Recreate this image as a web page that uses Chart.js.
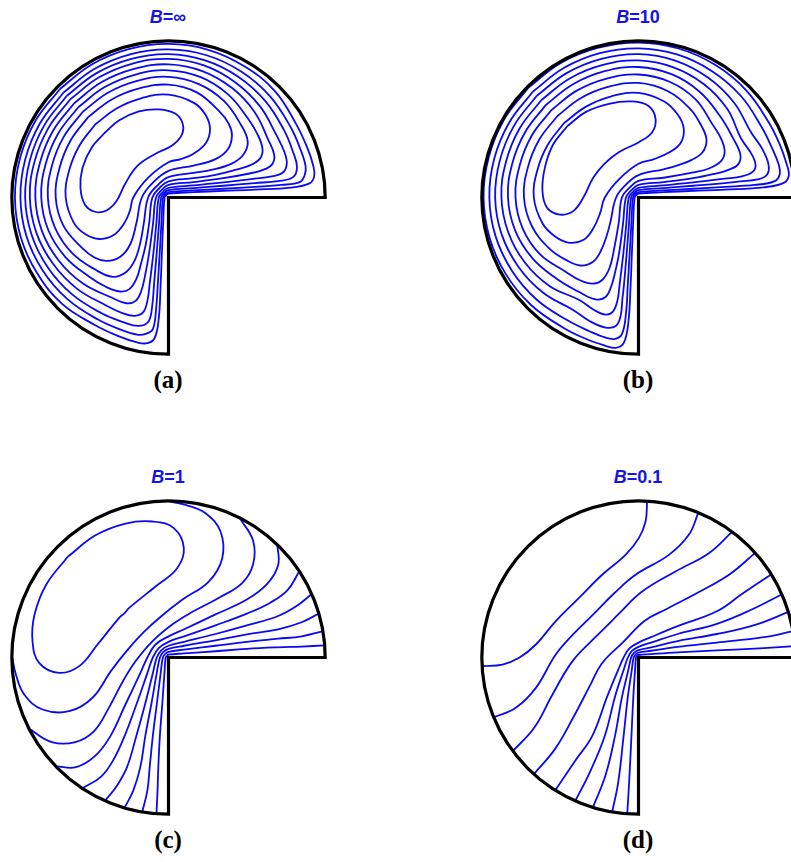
<!DOCTYPE html>
<html>
<head>
<meta charset="utf-8">
<script src="https://cdn.jsdelivr.net/npm/chart.js@4.4.1/dist/chart.umd.min.js"></script>
<style>
  html, body { margin: 0; padding: 0; background: #fff; }
  body { width: 791px; height: 862px; overflow: hidden; position: relative; }
  .panel { position: absolute; width: 329px; height: 329px; }
  .title { position: absolute; font: bold 18px "Liberation Sans", Arial, sans-serif; line-height: 18px;
           color: #1414e6; white-space: nowrap; transform: translateX(-50%); }
  .title i { font-style: italic; }
  .tag { position: absolute; font: bold 25px "Liberation Serif", "Times New Roman", serif; line-height: 25px;
         color: #000; white-space: nowrap; transform: translateX(-50%); }
</style>
</head>
<body>
<script>
// Isotherms of the three-quarter circular duct, radius = 100, re-entrant corner at (0,0).
// Biot numbers of the four cases
const biot = ['\u221E', '10', '1', '0.1'];
const tags = ['(a)', '(b)', '(c)', '(d)'];

// B = infinity : closed isotherms
const isoA = [
  [[-69.3,69.3],[-49,84.9],[-25.4,94.7],[0,98],[25.3,94.3],[48.4,83.8],[67.9,67.9],[81.4,47],[88.5,32],[92.5,20],[93,13.5],[90,9],[78,6.3],[55,5],[35,4.2],[16,3.4],[0,2.5],[-1.4,1.4],[-2.5,0],[-3.4,-16],[-4.2,-35],[-5,-55],[-6.3,-78],[-9,-90],[-13.5,-93],[-20,-92.5],[-32,-88.5],[-47,-81.4],[-67.9,-67.9],[-83.8,-48.4],[-94.3,-25.3],[-98,0],[-94.7,25.4],[-84.9,49],[-69.3,69.3]],
  [[-67,67],[-47.4,82],[-24.5,91.4],[0,94.5],[24.3,90.8],[46.4,80.4],[64.7,64.7],[77.9,45],[84.5,30],[87.5,20],[87,14.5],[84,10],[72,8],[55,6.8],[35,5.6],[16,4.5],[0,3.5],[-2,2],[-3.5,0],[-4.5,-16],[-5.6,-35],[-6.8,-55],[-8,-72],[-10,-84],[-14.5,-87],[-20,-87.5],[-30,-84.5],[-45,-77.9],[-64.7,-64.7],[-80.4,-46.4],[-90.8,-24.3],[-94.5,0],[-91.4,24.5],[-82,47.4],[-67,67]],
  [[-64.9,64.9],[-45.9,79.4],[-23.7,88.5],[0,91.5],[23.4,87.5],[44.5,77.1],[61.7,61.7],[73.9,42.7],[79.5,29],[82,19.5],[79.5,13],[70,10.5],[55,9.2],[35,7.5],[16,6],[0,4.7],[-2.7,2.7],[-4.7,0],[-6,-16],[-7.5,-35],[-9.2,-55],[-10.5,-70],[-13,-79.5],[-19.5,-82],[-29,-79.5],[-42.7,-73.9],[-61.7,-61.7],[-77.1,-44.5],[-87.5,-23.4],[-91.5,0],[-88.5,23.7],[-79.4,45.9],[-64.9,64.9]],
  [[-62.7,62.7],[-44.3,76.7],[-22.9,85.5],[0,88.5],[22.6,84.3],[42.5,73.6],[58.3,58.3],[68.9,39.8],[74,29],[75.5,21.5],[73,16],[65,13.3],[55,12],[35,9.6],[16,7.7],[0,6.2],[-3.5,3.5],[-6.2,0],[-7.7,-16],[-9.6,-35],[-12,-55],[-13.3,-65],[-16,-73],[-21.5,-75.5],[-29,-74],[-39.8,-68.9],[-58.3,-58.3],[-73.6,-42.5],[-84.3,-22.6],[-88.5,0],[-85.5,22.9],[-76.7,44.3],[-62.7,62.7]],
  [[-60.2,60.2],[-42.6,73.7],[-22,82.1],[0,85],[21.6,80.7],[40.4,70],[54.8,54.8],[63.7,36.8],[67.5,27],[66,21],[60,17.5],[50,15],[35,12.3],[16,9.8],[0,8],[-4.6,4.6],[-8,0],[-9.8,-16],[-12.3,-35],[-15,-50],[-17.5,-60],[-21,-66],[-27,-67.5],[-36.8,-63.7],[-54.8,-54.8],[-70,-40.4],[-80.7,-21.6],[-85,0],[-82.1,22],[-73.7,42.6],[-60.2,60.2]],
  [[-57.6,57.6],[-40.7,70.5],[-21,78.5],[0,81.2],[20.6,76.8],[38,65.8],[50.6,50.6],[57,40],[60,31],[58.5,25],[52,20.5],[42,17.5],[30,14.5],[16,12.3],[0,10.3],[-5.9,5.9],[-10.3,0],[-12.3,-16],[-14.5,-30],[-17.5,-42],[-20.5,-52],[-25,-58.5],[-31,-60],[-40,-57],[-50.6,-50.6],[-65.8,-38],[-76.8,-20.6],[-81.2,0],[-78.5,21],[-70.5,40.7],[-57.6,57.6]],
  [[-54.7,54.7],[-38.7,66.9],[-20,74.5],[0,77],[19.4,72.4],[35.5,61.5],[46.3,46.3],[50.6,35.5],[47.5,27],[40,21.5],[28,17.8],[16,15.7],[0,13],[-7.4,7.4],[-13,0],[-15.7,-16],[-17.8,-28],[-21.5,-40],[-27,-47.5],[-35.5,-50.6],[-46.3,-46.3],[-61.5,-35.5],[-72.4,-19.4],[-77,0],[-74.5,20],[-66.9,38.7],[-54.7,54.7]],
  [[-51.3,51.3],[-36.2,62.6],[-18.7,69.6],[0,72],[18,67.1],[32,55.4],[38.5,47],[40.5,39.5],[38,31],[30,24.5],[16,20.4],[0,17],[-9.7,9.7],[-17,0],[-20.4,-16],[-24.5,-30],[-31,-38],[-39.5,-40.5],[-47,-38.5],[-55.4,-32],[-67.1,-18],[-72,0],[-69.6,18.7],[-62.6,36.2],[-51.3,51.3]],
  [[-46.7,46.7],[-32.9,57],[-17,63.5],[0,65.6],[16.2,60.4],[23.5,53],[26.5,44],[24,35],[16,28],[8,24.5],[0,22.5],[-12.8,12.8],[-22.5,0],[-24.5,-8],[-28,-16],[-35,-24],[-44,-26.5],[-53,-23.5],[-60.4,-16.2],[-65.6,0],[-63.5,17],[-57,32.9],[-46.7,46.7]],
  [[-41,41],[-31.7,49.1],[-18.9,54.9],[-6.2,56.2],[4.5,53.4],[9.1,47],[8.3,39.6],[2.3,33.2],[-8.3,27.9],[-20,20],[-27.9,8.3],[-33.2,-2.3],[-39.6,-8.3],[-47,-9.1],[-53.4,-4.5],[-56.2,6.2],[-54.9,18.9],[-49.1,31.7],[-41,41]]
];

// B = 10
const isoB = [
  [[-70.2,70.2],[-49.6,85.9],[-25.6,95.6],[0,98.9],[25.5,95.1],[48.9,84.7],[68.6,68.6],[83.1,48],[90.5,33],[94.5,21.5],[96,14.5],[93,9.5],[80,6.5],[55,5],[35,4.2],[16,3.4],[0,2.5],[-1.4,1.4],[-2.5,0],[-3.4,-16],[-4.2,-35],[-5,-55],[-6.5,-80],[-9.5,-93],[-14.5,-96],[-21.5,-94.5],[-33,-90.5],[-48,-83.1],[-68.6,-68.6],[-84.7,-48.9],[-95.1,-25.5],[-98.9,0],[-95.6,25.6],[-85.9,49.6],[-70.2,70.2]],
  [[-67.5,67.5],[-47.7,82.6],[-24.7,92.1],[0,95.2],[24.5,91.3],[46.7,80.8],[65.1,65.1],[78.4,45.3],[85.5,31],[89.5,21],[90.2,15],[87,10.5],[74,8],[55,6.8],[35,5.6],[16,4.5],[0,3.5],[-2,2],[-3.5,0],[-4.5,-16],[-5.6,-35],[-6.8,-55],[-8,-74],[-10.5,-87],[-15,-90.2],[-21,-89.5],[-31,-85.5],[-45.3,-78.4],[-65.1,-65.1],[-80.8,-46.7],[-91.3,-24.5],[-95.2,0],[-92.1,24.7],[-82.6,47.7],[-67.5,67.5]],
  [[-64.9,64.9],[-45.9,79.4],[-23.7,88.5],[0,91.5],[23.4,87.4],[44.3,76.6],[60.8,60.8],[71.9,41.5],[79,31],[83,21],[82,14.5],[76,11.5],[65,10.3],[55,9.2],[35,7.5],[16,6],[0,4.7],[-2.7,2.7],[-4.7,0],[-6,-16],[-7.5,-35],[-9.2,-55],[-10.3,-65],[-11.5,-76],[-14.5,-82],[-21,-83],[-31,-79],[-41.5,-71.9],[-60.8,-60.8],[-76.6,-44.3],[-87.4,-23.4],[-91.5,0],[-88.5,23.7],[-79.4,45.9],[-64.9,64.9]],
  [[-62.1,62.1],[-43.9,76],[-22.7,84.6],[0,87.5],[22.3,83.1],[41.8,72.3],[56.6,56.6],[65.4,37.8],[72,28],[74.7,21],[73,16.5],[66,13.5],[55,12],[35,9.6],[16,7.7],[0,6.2],[-3.5,3.5],[-6.2,0],[-7.7,-16],[-9.6,-35],[-12,-55],[-13.5,-66],[-16.5,-73],[-21,-74.7],[-28,-72],[-37.8,-65.4],[-56.6,-56.6],[-72.3,-41.8],[-83.1,-22.3],[-87.5,0],[-84.6,22.7],[-76,43.9],[-62.1,62.1]],
  [[-59.1,59.1],[-41.8,72.3],[-21.6,80.6],[0,83.3],[21.1,78.7],[39,67.5],[52,52],[60,38.5],[65,27.5],[63.5,21],[57,17.5],[48,15],[35,12.3],[16,9.8],[0,8],[-4.6,4.6],[-8,0],[-9.8,-16],[-12.3,-35],[-15,-48],[-17.5,-57],[-21,-63.5],[-27.5,-65],[-38.5,-60],[-52,-52],[-67.5,-39],[-78.7,-21.1],[-83.3,0],[-80.6,21.6],[-72.3,41.8],[-59.1,59.1]],
  [[-55.7,55.7],[-39.4,68.2],[-20.3,75.9],[0,78.5],[19.8,73.9],[36.3,62.8],[47,47],[53,37],[55,29],[52.5,23],[45,18.5],[35,16],[16,12.6],[0,10.6],[-6,6],[-10.6,0],[-12.6,-16],[-16,-35],[-18.5,-45],[-23,-52.5],[-29,-55],[-37,-53],[-47,-47],[-62.8,-36.3],[-73.9,-19.8],[-78.5,0],[-75.9,20.3],[-68.2,39.4],[-55.7,55.7]],
  [[-51.9,51.9],[-36.7,63.5],[-18.9,70.7],[0,73.1],[18.2,68.1],[32.8,56.7],[40,46],[43.4,37],[41,29],[34,24],[25,20.5],[16,18],[0,14.3],[-8.1,8.1],[-14.3,0],[-18,-16],[-20.5,-25],[-24,-34],[-29,-41],[-37,-43.4],[-46,-40],[-56.7,-32.8],[-68.1,-18.2],[-73.1,0],[-70.7,18.9],[-63.5,36.7],[-51.9,51.9]],
  [[-47.5,47.5],[-33.5,58],[-17.3,64.6],[0,66.8],[16.4,61.3],[25,53],[28.9,44],[27,35],[20,29],[10,24.5],[0,21.5],[-12,12],[-21.5,0],[-24.5,-10],[-29,-20],[-35,-27],[-44,-28.9],[-53,-25],[-61.3,-16.4],[-66.8,0],[-64.6,17.3],[-58,33.5],[-47.5,47.5]],
  [[-45.5,45.5],[-33.8,54.5],[-18.9,59.8],[-4,61.3],[6.6,58.3],[10.9,50.2],[8.7,41.7],[0.2,35.3],[-12.6,28.9],[-21.6,21.6],[-28.9,12.6],[-35.3,-0.2],[-41.7,-8.7],[-50.2,-10.9],[-58.3,-6.6],[-61.3,4],[-59.8,18.9],[-54.5,33.8],[-45.5,45.5]]
];

// B = 1 : one closed isotherm, the rest end on the wall
const isoC = [
  [[-64.3,64.3],[-46.6,78],[-27.4,85.5],[-10.4,86.8],[3.4,82.6],[9.8,69.8],[5.5,57],[-8.3,45.3],[-25.3,31.5],[-28.2,28.2],[-31.5,25.3],[-45.3,8.3],[-57,-5.5],[-69.8,-9.8],[-82.6,-3.4],[-86.8,10.4],[-85.5,27.4],[-78,46.6],[-64.3,64.3]],
  [[-1,99.9],[10.9,97.4],[23.6,92.1],[33.2,80.4],[34.3,63.4],[25.7,48.5],[8.7,36.8],[-5,26],[-16,16],[-26,5],[-36.8,-8.7],[-48.5,-25.7],[-63.4,-34.3],[-80.4,-33.2],[-92.1,-23.6],[-97.4,-10.9],[-99.9,1]],
  [[45.4,89.1],[54,74.5],[54,59.5],[47,47.5],[32,38],[15,29],[3,21.5],[-10.3,10.3],[-21.5,-3],[-29,-15],[-38,-32],[-47.5,-47],[-59.5,-54],[-74.5,-54],[-89.1,-45.4]],
  [[69.5,71.9],[70,59],[63,47],[50,37],[30,27.5],[10,18],[0,13.5],[-8.3,8.3],[-13.5,0],[-18,-10],[-27.5,-30],[-37,-50],[-47,-63],[-59,-70],[-71.9,-69.5]],
  [[83.5,55],[76,43],[65,35],[50,28],[30,20.5],[10,13.5],[0,10],[-6.1,6.1],[-10,0],[-13.5,-10],[-20.5,-30],[-28,-50],[-35,-65],[-43,-76],[-55,-83.5]],
  [[91.4,40.5],[82,33],[70,26.5],[50,20.5],[30,15],[10,10],[0,7.5],[-4.6,4.6],[-7.5,0],[-10,-10],[-15,-30],[-20.5,-50],[-26.5,-70],[-33,-82],[-40.5,-91.4]],
  [[96,28.1],[85,22.5],[70,18],[50,14.8],[30,11],[10,7.5],[0,5.5],[-3.4,3.4],[-5.5,0],[-7.5,-10],[-11,-30],[-14.8,-50],[-18,-70],[-22.5,-85],[-28.1,-96]],
  [[98.6,16.8],[85,13.5],[70,12],[50,10],[30,7.5],[10,5],[0,3.6],[-2.2,2.2],[-3.6,0],[-5,-10],[-7.5,-30],[-10,-50],[-12,-70],[-13.5,-85],[-16.8,-98.6]],
  [[99.7,7.7],[85,7],[70,6.5],[50,5.5],[30,4],[10,2.6],[0,1.8],[-1,1],[-1.8,0],[-2.6,-10],[-4,-30],[-5.5,-50],[-6.5,-70],[-7,-85],[-7.7,-99.7]]
];

// B = 0.1 : all isotherms end on the wall
const isoD = [
  [[5.5,99.8],[4.5,86.8],[0.2,76.2],[-8.3,65.5],[-23.2,52.8],[-38,38],[-52.8,23.2],[-65.5,8.3],[-76.2,-0.2],[-86.8,-4.5],[-99.8,-5.5]],
  [[38.1,92.1],[32.1,78.3],[19.4,65.5],[-1.9,52.8],[-15.5,41],[-28.2,28.2],[-41,15.5],[-52.8,1.9],[-65.5,-19.4],[-78.3,-32.1],[-92.1,-38.1]],
  [[59.7,80.2],[44.9,66.6],[23.6,54.9],[2.3,42.1],[-12,28.5],[-20.2,20.2],[-28.5,12],[-42.1,-2.3],[-54.9,-23.6],[-66.6,-44.9],[-80.2,-59.7]],
  [[74.3,66.6],[58,53],[38,41.5],[18,31],[4,23.5],[-9.8,9.8],[-23.5,-4],[-31,-18],[-41.5,-38],[-53,-58],[-66.6,-74.3]],
  [[84.9,53.2],[66,40.5],[50,29.5],[25,20],[8,13],[0,9.5],[-5.8,5.8],[-9.5,0],[-13,-8],[-20,-25],[-29.5,-50],[-40.5,-66],[-53.2,-84.9]],
  [[91.7,40.4],[72,30.5],[50,21.5],[25,15],[8,9.5],[0,6.8],[-4.2,4.2],[-6.8,0],[-9.5,-8],[-15,-25],[-21.5,-50],[-30.5,-72],[-40.4,-91.7]],
  [[95.7,29.1],[75,21],[50,15],[25,10.5],[8,6.5],[0,4.7],[-2.9,2.9],[-4.7,0],[-6.5,-8],[-10.5,-25],[-15,-50],[-21,-75],[-29.1,-95.7]],
  [[98.6,16.8],[80,13],[50,9.5],[25,6.8],[8,4.3],[0,3.1],[-1.9,1.9],[-3.1,0],[-4.3,-8],[-6.8,-25],[-9.5,-50],[-13,-80],[-16.8,-98.6]],
  [[99.7,7.2],[80,6],[50,4.5],[25,3.3],[8,2.2],[0,1.6],[-1,1],[-1.6,0],[-2.2,-8],[-3.3,-25],[-4.5,-50],[-6,-80],[-7.2,-99.7]]
];

const ISO_BLUE = '#0a0af0';
const panels = [
  { iso: isoA, cx: 168, cy: 197 },
  { iso: isoB, cx: 638, cy: 197 },
  { iso: isoC, cx: 168, cy: 657 },
  { iso: isoD, cx: 638, cy: 657 }
];
const SIZE = 329, LIM = 105;

// duct wall: straight legs along the axes plus the 270 degree arc
const ductWall = {
  id: 'ductWall',
  afterDatasetsDraw(chart) {
    const { ctx, scales: { x, y } } = chart;
    const ox = x.getPixelForValue(0), oy = y.getPixelForValue(0);
    const r = x.getPixelForValue(100) - ox;
    ctx.save();
    ctx.lineWidth = 3.2;
    ctx.strokeStyle = '#000';
    ctx.lineJoin = 'miter';
    ctx.beginPath();
    ctx.moveTo(ox, oy);
    ctx.lineTo(ox + r, oy);
    ctx.arc(ox, oy, r, 0, Math.PI / 2, true);
    ctx.closePath();
    ctx.stroke();
    ctx.restore();
  }
};

panels.forEach((p, i) => {
  const wrap = document.createElement('div');
  wrap.className = 'panel';
  wrap.style.left = Math.round(p.cx - SIZE / 2) + 'px';
  wrap.style.top = Math.round(p.cy - SIZE / 2) + 'px';
  const cv = document.createElement('canvas');
  cv.width = SIZE; cv.height = SIZE;
  wrap.appendChild(cv);
  document.body.appendChild(wrap);

  const t = document.createElement('div');
  t.className = 'title';
  t.innerHTML = '<i>B</i>=' + biot[i];
  t.style.left = p.cx + 'px';
  t.style.top = (p.cy - 189) + 'px';
  document.body.appendChild(t);

  const g = document.createElement('div');
  g.className = 'tag';
  g.textContent = tags[i];
  g.style.left = p.cx + 'px';
  g.style.top = (p.cy + 170) + 'px';
  document.body.appendChild(g);

  new Chart(cv.getContext('2d'), {
    type: 'scatter',
    data: {
      datasets: p.iso.map(line => ({
        data: line.map(([x, y]) => ({ x, y })),
        showLine: true,
        borderColor: ISO_BLUE,
        borderWidth: 1.8,
        pointRadius: 0,
        tension: 0.4,
        fill: false
      }))
    },
    options: {
      responsive: false,
      animation: false,
      events: [],
      layout: { padding: 0 },
      plugins: { legend: { display: false }, tooltip: { enabled: false }, title: { display: false } },
      scales: {
        x: { type: 'linear', min: -LIM, max: LIM, display: false },
        y: { type: 'linear', min: -LIM, max: LIM, display: false }
      }
    },
    plugins: [ductWall]
  });
});
</script>
</body>
</html>
